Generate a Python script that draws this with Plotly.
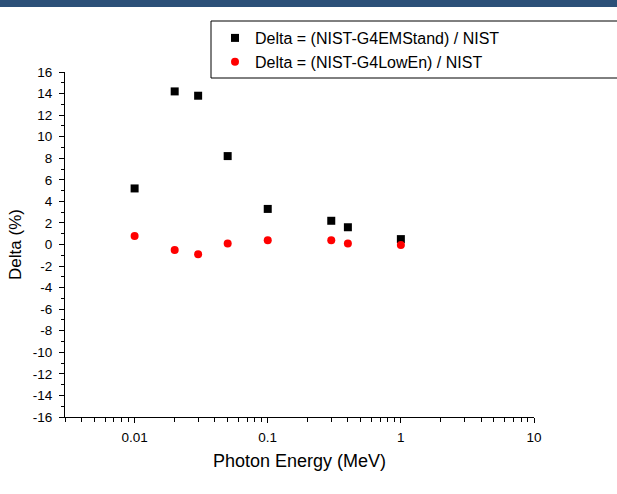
import plotly.graph_objects as go

# photon energies (MeV) and relative differences (%)
energy = [0.01, 0.02, 0.03, 0.05, 0.1, 0.3, 0.4, 1.0]
delta_emstand = [5.2, 14.2, 13.8, 8.2, 3.3, 2.2, 1.6, 0.5]
delta_lowen = [0.8, -0.5, -0.9, 0.1, 0.4, 0.4, 0.1, -0.05]

y_ticks = list(range(-16, 17, 2))
y_labels = [str(v) for v in y_ticks]
x_ticks = [0.01, 0.1, 1, 10]
x_labels = ["0.01", "0.1", "1", "10"]

# plot area in pixels
W, H = 617, 494
L, R, T, B = 65, 83, 72, 77
pw, ph = W - L - R, H - T - B


def px_x(x):
    return (x - L) / pw


def px_y(y):
    return 1 - (y - T) / ph


fig = go.Figure()

fig.add_trace(
    go.Scatter(
        x=energy, y=delta_emstand, mode="markers",
        marker=dict(symbol="square", size=8, color="black"),
        name="Delta = (NIST-G4EMStand) / NIST",
    )
)
fig.add_trace(
    go.Scatter(
        x=energy, y=delta_lowen, mode="markers",
        marker=dict(symbol="circle", size=8, color="#ff0000"),
        name="Delta = (NIST-G4LowEn) / NIST",
    )
)

axis_font = dict(family="Liberation Sans, Arial, sans-serif", size=13.5, color="black")

fig.update_layout(
    width=W, height=H,
    margin=dict(l=L, r=R, t=T, b=B),
    plot_bgcolor="white", paper_bgcolor="white",
    font=dict(family="Liberation Sans, Arial, sans-serif", color="black"),
    showlegend=True,
    legend=dict(
        x=px_x(215), y=px_y(21), xanchor="left", yanchor="top",
        bgcolor="rgba(0,0,0,0)", borderwidth=0,
        font=dict(size=16, color="black"),
        itemwidth=30, tracegroupgap=0,
    ),
    xaxis=dict(
        type="log", range=[-2.5229, 1],
        showline=True, linecolor="black", linewidth=1,
        showgrid=False, zeroline=False, mirror=False,
        ticks="outside", ticklen=5, tickcolor="black",
        tickvals=x_ticks, ticktext=x_labels,
        tickfont=axis_font, ticklabelstandoff=3,
        minor=dict(ticks="outside", ticklen=4, tickcolor="black", dtick="D1", showgrid=False),
        title=dict(text="Photon Energy (MeV)", font=dict(size=18), standoff=10),
    ),
    yaxis=dict(
        range=[-16, 16],
        showline=True, linecolor="black", linewidth=1,
        showgrid=False, zeroline=False, mirror=False,
        ticks="outside", ticklen=5, tickcolor="black",
        tickvals=y_ticks, ticktext=y_labels,
        tickfont=axis_font, ticklabelstandoff=4,
        minor=dict(ticks="outside", ticklen=3, tickcolor="black", dtick=1, showgrid=False),
        title=dict(text="Delta (%)", font=dict(size=17), standoff=6),
    ),
    shapes=[
        # dark band across the top of the page
        dict(type="rect", xref="paper", yref="paper",
             x0=px_x(-5), x1=px_x(W + 5), y0=px_y(7), y1=px_y(-5),
             fillcolor="#2c5078", line=dict(width=0), layer="above"),
        # legend frame, running off the right edge
        dict(type="rect", xref="paper", yref="paper",
             x0=px_x(211), x1=px_x(W + 10), y0=px_y(78), y1=px_y(21),
             fillcolor="rgba(0,0,0,0)", line=dict(color="black", width=1)),
    ],
)

# drop the default page margin so the figure sits at the window's corner
fig.write_html(
    "out.html",
    config={"displayModeBar": False},
    post_script="document.body.style.margin='0';document.body.style.overflow='hidden';",
)
